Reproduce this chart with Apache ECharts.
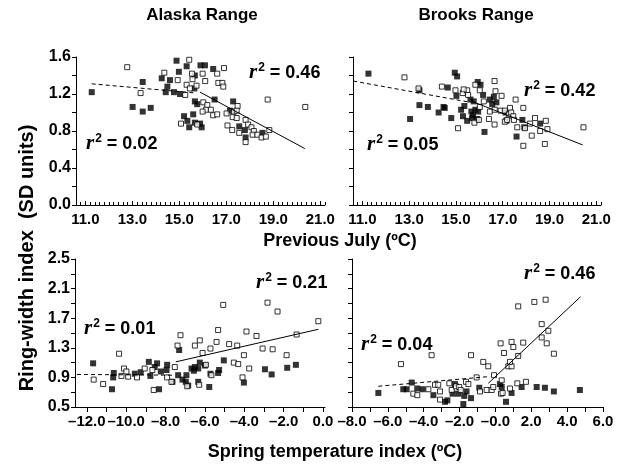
<!DOCTYPE html>
<html>
<head>
<meta charset="utf-8">
<script src="https://cdn.jsdelivr.net/npm/echarts@6/dist/echarts.min.js"></script>
<style>
  html, body { margin: 0; background: #fff; }
  #chart { width: 622px; height: 465px; }
</style>
</head>
<body>
<div id="chart"></div>
<script>
// ---- data ----
// Alaska Range vs previous July temperature
var alaskaJulyFilled = [[11.27,1.22],[13.44,1.33],[13.01,1.06],[13.44,1.01],[13.78,1.05],[14.88,1.56],[15.31,1.50],[14.98,1.44],[14.25,1.37],[14.60,1.35],[14.49,1.28],[14.42,1.22],[14.77,1.22],[15.03,1.20],[15.66,1.40],[15.64,1.26],[15.90,1.51],[16.09,1.51],[16.59,1.63],[16.44,1.47],[15.66,1.12],[15.76,1.09],[16.50,1.14],[15.59,0.98],[15.20,0.96],[15.34,0.91],[15.66,0.89],[15.42,0.84],[15.95,0.84],[15.88,0.88],[17.29,1.12],[17.15,1.02],[17.55,0.85],[17.79,0.81],[17.82,0.73],[18.54,0.78]];
var alaskaJulyOpen = [[12.78,1.49],[13.35,1.21],[15.42,1.57],[14.36,1.43],[14.93,1.35],[15.25,1.19],[15.31,1.30],[15.54,1.42],[15.56,1.36],[15.73,1.29],[15.45,1.26],[15.99,1.42],[16.10,1.34],[16.90,1.48],[16.61,1.42],[16.66,1.32],[16.83,1.32],[16.87,1.28],[16.02,1.11],[16.19,1.08],[16.13,1.03],[16.34,1.03],[15.99,1.01],[16.44,0.97],[16.61,0.98],[15.07,0.88],[15.76,0.87],[17.48,1.07],[17.01,0.99],[17.32,1.01],[17.44,1.02],[17.27,0.95],[17.44,0.94],[17.05,0.86],[17.25,0.81],[17.55,0.78],[17.82,0.68],[17.82,0.92],[17.93,0.87],[18.07,0.84],[18.17,0.80],[18.12,0.76],[18.32,0.76],[18.50,0.73],[18.68,0.74],[18.83,0.81],[18.76,1.14],[20.36,1.06]];
var alaskaJulyDash = [[11.27,1.31],[15.73,1.21]];
var alaskaJulyFit = [[15.88,1.22],[20.34,0.61]];

// Brooks Range vs previous July temperature
var brooksJulyFilled = [[11.26,1.42],[13.44,1.24],[13.44,1.08],[13.04,0.93],[13.80,1.06],[14.26,1.00],[14.47,1.06],[14.52,1.05],[14.65,1.27],[14.80,0.94],[14.95,1.43],[15.05,1.39],[15.02,1.18],[15.62,1.14],[15.76,1.12],[15.93,1.33],[16.05,1.30],[16.16,1.19],[15.22,1.03],[15.36,1.07],[15.30,0.96],[15.48,0.91],[15.66,1.01],[15.73,0.97],[15.69,0.94],[15.83,1.03],[15.95,1.01],[15.91,0.93],[16.22,0.79],[16.45,1.14],[16.62,1.17],[16.55,1.09],[16.73,1.11],[17.12,1.00],[17.15,0.91],[17.59,0.74],[17.84,0.92],[17.92,0.84],[18.60,0.88]];
var brooksJulyOpen = [[12.80,1.38],[13.40,1.26],[14.40,1.28],[15.09,0.83],[14.98,1.24],[15.29,1.21],[15.48,1.24],[15.33,1.25],[15.52,1.19],[15.83,1.30],[16.02,1.24],[15.79,0.89],[16.02,1.06],[15.98,0.92],[16.19,1.12],[16.41,0.93],[16.45,1.01],[16.65,1.34],[16.69,1.23],[16.66,1.03],[16.65,0.87],[16.95,1.18],[16.91,1.02],[17.09,1.02],[17.31,1.05],[17.09,0.90],[17.19,0.92],[17.26,0.98],[17.36,1.00],[17.45,0.96],[17.55,1.14],[17.48,0.92],[17.62,0.84],[17.88,1.05],[17.88,0.64],[17.95,0.83],[18.17,0.88],[18.24,0.75],[18.38,0.94],[18.60,0.80],[18.84,0.91],[18.91,0.82],[18.80,0.66],[20.45,0.84]];
var brooksJulyDash = [[10.61,1.34],[15.62,1.11]];
var brooksJulyFit = [[15.69,1.12],[20.41,0.65]];

// Alaska Range vs spring temperature index
var alaskaSpringFilled = [[-11.68,1.09],[-10.72,0.74],[-10.63,0.96],[-10.66,0.90],[-9.56,0.95],[-9.26,0.97],[-8.85,1.11],[-8.77,0.92],[-8.55,1.04],[-8.43,1.09],[-8.33,0.74],[-8.24,0.98],[-7.92,1.07],[-7.95,1.00],[-7.65,0.84],[-7.36,0.93],[-7.31,1.27],[-7.14,0.87],[-6.94,0.93],[-6.97,0.84],[-6.85,0.79],[-6.68,1.02],[-6.56,0.99],[-6.51,1.04],[-6.34,1.02],[-6.26,1.10],[-6.34,0.84],[-6.00,1.06],[-5.78,0.77],[-5.72,0.95],[-5.28,1.00],[-5.33,0.96],[-5.04,1.13],[-4.02,0.83],[-2.95,1.01],[-2.61,0.94],[-1.82,1.03],[-1.38,1.07]];
var alaskaSpringOpen = [[-11.65,0.87],[-11.17,0.81],[-10.36,1.22],[-10.24,0.92],[-10.11,1.02],[-9.90,0.91],[-9.99,0.98],[-9.45,0.90],[-9.06,1.02],[-8.67,1.00],[-8.60,0.73],[-7.92,0.90],[-7.70,0.84],[-7.53,1.04],[-7.39,1.33],[-7.24,1.47],[-6.90,0.78],[-6.51,1.33],[-6.26,1.40],[-6.12,1.23],[-6.29,0.80],[-5.95,1.07],[-5.72,1.29],[-5.67,0.93],[-5.41,1.38],[-5.33,1.54],[-5.07,1.88],[-4.77,1.35],[-4.36,1.33],[-4.53,1.10],[-4.31,1.08],[-4.09,0.90],[-4.02,1.20],[-3.89,1.52],[-3.75,1.02],[-3.38,1.46],[-3.07,1.29],[-2.82,1.91],[-2.56,1.28],[-2.31,1.79],[-1.85,1.20],[-1.34,1.48],[-0.24,1.66]];
var alaskaSpringDash = [[-12.5,0.94],[-7.6,0.93]];
var alaskaSpringFit = [[-7.48,1.11],[-0.24,1.55]];

// Brooks Range vs spring temperature index
var brooksSpringFilled = [[-6.53,0.69],[-5.14,0.74],[-4.95,0.74],[-4.67,0.83],[-4.36,0.75],[-4.06,0.74],[-3.46,0.66],[-2.81,0.57],[-2.68,0.59],[-2.39,0.68],[-2.26,0.81],[-2.07,0.68],[-1.79,0.54],[-1.74,0.65],[-1.61,0.71],[-1.36,0.62],[-0.90,0.76],[0.25,0.81],[0.35,0.77],[0.59,0.57],[0.90,0.69],[1.46,0.77],[2.30,0.77],[2.76,0.76],[3.26,0.71],[4.71,0.73]];
var brooksSpringOpen = [[-5.27,1.08],[-4.58,0.68],[-4.36,0.66],[-3.74,0.74],[-3.56,1.20],[-3.37,0.80],[-3.19,0.80],[-3.09,0.71],[-3.09,0.60],[-2.57,0.82],[-2.44,0.73],[-2.20,0.78],[-2.02,0.77],[-1.94,0.73],[-1.64,0.84],[-1.51,0.81],[-1.36,1.20],[-0.86,0.71],[-1.05,0.90],[-0.68,1.11],[-0.40,1.05],[-0.49,0.73],[-0.21,0.73],[-0.08,0.93],[-0.12,0.77],[0.35,0.86],[0.31,0.68],[0.40,0.69],[0.29,1.36],[0.48,1.23],[0.90,1.38],[1.00,1.31],[0.72,1.05],[0.90,1.05],[0.81,1.11],[0.81,0.75],[1.27,1.86],[1.27,1.19],[1.55,1.37],[1.22,0.82],[1.70,0.84],[2.17,1.92],[2.80,1.95],[2.58,1.62],[2.58,1.44],[2.95,1.53],[2.86,1.36],[3.26,1.22]];
var brooksSpringDash = [[-6.53,0.78],[-0.40,0.91]];
var brooksSpringFit = [[-0.40,0.82],[4.75,1.99]];

// tick labels
var julyTicks = [11, 13, 15, 17, 19, 21];
var alaskaSpringTicks = [-12, -10, -8, -6, -4, -2, 0];
var brooksSpringTicks = [-8, -6, -4, -2, 0, 2, 4, 6];
var topYTicks = [0, 0.4, 0.8, 1.2, 1.6];
var bottomYTicks = [0.5, 0.9, 1.3, 1.7, 2.1, 2.5];

var panelTitles = ['Alaska Range', 'Brooks Range'];
var r2Labels = ['0.46', '0.02', '0.42', '0.05', '0.21', '0.01', '0.46', '0.04'];

// ---- chart ----
var SANS = '"Liberation Sans", Arial, Helvetica, sans-serif';
var SERIF = '"Liberation Serif", "Times New Roman", serif';

function steps(a, b, s) {
  var out = [];
  for (var v = a; v <= b + 1e-9; v += s) out.push(Math.round(v * 100) / 100);
  return out;
}

function dashNum(v) {
  return (v < 0 ? '\u2013' : '') + Math.abs(v).toFixed(1);
}

function font(size) {
  return { fontFamily: SANS, fontWeight: 'bold', fontSize: size, color: '#000' };
}

function xAxis(grid, min, max, labels, ticks, fmt, tickInside) {
  return {
    type: 'value', gridIndex: grid, min: min, max: max,
    splitLine: { show: false },
    axisLine: { show: true, onZero: false, lineStyle: { color: '#000', width: 1 } },
    axisTick: { show: true, inside: !!tickInside, length: tickInside ? 3 : 5, customValues: ticks, lineStyle: { color: '#000' } },
    axisLabel: Object.assign({ margin: 7, customValues: labels, formatter: fmt }, font(15))
  };
}

// extra axis carrying only the long major ticks of the July panels
function majorTicks(grid, min, max, ticks) {
  return {
    type: 'value', gridIndex: grid, min: min, max: max,
    splitLine: { show: false }, axisLine: { show: false }, axisLabel: { show: false },
    axisTick: { show: true, length: 4, customValues: ticks, lineStyle: { color: '#000' } }
  };
}

function yAxis(grid, min, max, labels, ticks, showLabels) {
  return {
    type: 'value', gridIndex: grid, min: min, max: max,
    splitLine: { show: false },
    axisLine: { show: true, onZero: false, lineStyle: { color: '#000', width: 1 } },
    axisTick: { show: true, length: 4, customValues: ticks, lineStyle: { color: '#000' } },
    axisLabel: Object.assign({ show: showLabels, margin: 5, customValues: labels,
      formatter: function (v) { return v.toFixed(1); } }, font(16))
  };
}

function filled(i, data) {
  return { type: 'scatter', xAxisIndex: i, yAxisIndex: i, data: data, symbol: 'rect', symbolSize: 6,
    itemStyle: { color: '#000' }, silent: true };
}
function open(i, data) {
  return { type: 'scatter', xAxisIndex: i, yAxisIndex: i, data: data, symbol: 'rect', symbolSize: 5,
    itemStyle: { color: '#fff', borderColor: '#000', borderWidth: 1 }, silent: true };
}
function fit(i, data, dashed) {
  return { type: 'line', xAxisIndex: i, yAxisIndex: i, data: data, symbol: 'none', z: 3, silent: true,
    lineStyle: { color: '#000', width: 1, type: dashed ? [4, 3] : 'solid' } };
}

function r2(x, y, val) {
  return {
    type: 'text', x: x, y: y,
    style: {
      text: '{r|r}{s|2}{t| = ' + val + '}',
      align: 'left', verticalAlign: 'middle', textAlign: 'left', textVerticalAlign: 'middle',
      rich: {
        r: { fontFamily: SERIF, fontStyle: 'italic', fontWeight: 'bold', fontSize: 21, fill: '#000' },
        s: { fontFamily: SANS, fontWeight: 'bold', fontSize: 12, fill: '#000', padding: [0, 0, 11, 1] },
        t: { fontFamily: SANS, fontWeight: 'bold', fontSize: 18, fill: '#000' }
      }
    }
  };
}

function bold(text, x, y, size, rot) {
  return {
    type: 'text', x: x, y: y, rotation: rot || 0,
    style: { text: text, fontFamily: SANS, fontWeight: 'bold', fontSize: size, fill: '#000',
      align: 'center', verticalAlign: 'middle', textAlign: 'center', textVerticalAlign: 'middle' }
  };
}

var julyMin = 10.6, julyMax = 21.2;

var chart = echarts.init(document.getElementById('chart'), null, { renderer: 'canvas' });
chart.setOption({
  animation: false,
  backgroundColor: '#fff',
  grid: [
    { left: 76, top: 57, width: 249, height: 148 },
    { left: 353, top: 57, width: 248, height: 148 },
    { left: 75, top: 259, width: 250, height: 148 },
    { left: 352, top: 259, width: 251, height: 148 }
  ],
  xAxis: [
    xAxis(0, julyMin, julyMax, julyTicks, steps(10.6, 21.2, 0.2), function (v) { return v.toFixed(1); }, true),
    xAxis(1, julyMin, julyMax, julyTicks, steps(10.6, 21.2, 0.2), function (v) { return v.toFixed(1); }, true),
    xAxis(2, -12.6, 0.1, alaskaSpringTicks, steps(-12, 0, 1), dashNum),
    xAxis(3, -8, 6, brooksSpringTicks, steps(-8, 6, 1), function (v) { return v === 0 ? '\u20130.0' : dashNum(v); }),
    majorTicks(0, julyMin, julyMax, julyTicks),
    majorTicks(1, julyMin, julyMax, julyTicks)
  ],
  yAxis: [
    yAxis(0, 0, 1.6, topYTicks, steps(0, 1.6, 0.2), true),
    yAxis(1, 0, 1.6, topYTicks, steps(0, 1.6, 0.2), false),
    yAxis(2, 0.5, 2.5, bottomYTicks, steps(0.5, 2.5, 0.2), true),
    yAxis(3, 0.5, 2.5, bottomYTicks, steps(0.5, 2.5, 0.2), false)
  ],
  series: [
    filled(0, alaskaJulyFilled), open(0, alaskaJulyOpen), fit(0, alaskaJulyDash, true), fit(0, alaskaJulyFit, false),
    filled(1, brooksJulyFilled), open(1, brooksJulyOpen), fit(1, brooksJulyDash, true), fit(1, brooksJulyFit, false),
    filled(2, alaskaSpringFilled), open(2, alaskaSpringOpen), fit(2, alaskaSpringDash, true), fit(2, alaskaSpringFit, false),
    filled(3, brooksSpringFilled), open(3, brooksSpringOpen), fit(3, brooksSpringDash, true), fit(3, brooksSpringFit, false)
  ],
  graphic: [
    bold(panelTitles[0], 202, 15, 17),
    bold(panelTitles[1], 476, 15, 17),
    bold('Previous July (\u00baC)', 340, 241, 18),
    bold('Spring temperature index (\u00baC)', 335, 452, 18),
    bold('Ring-width index  (SD units)', 27, 258, 20, Math.PI / 2),
    r2(249, 73, r2Labels[0]),
    r2(86, 144, r2Labels[1]),
    r2(524, 91, r2Labels[2]),
    r2(367, 145, r2Labels[3]),
    r2(256, 283, r2Labels[4]),
    r2(84, 329, r2Labels[5]),
    r2(524, 274, r2Labels[6]),
    r2(361, 345, r2Labels[7])
  ]
});
</script>
</body>
</html>
